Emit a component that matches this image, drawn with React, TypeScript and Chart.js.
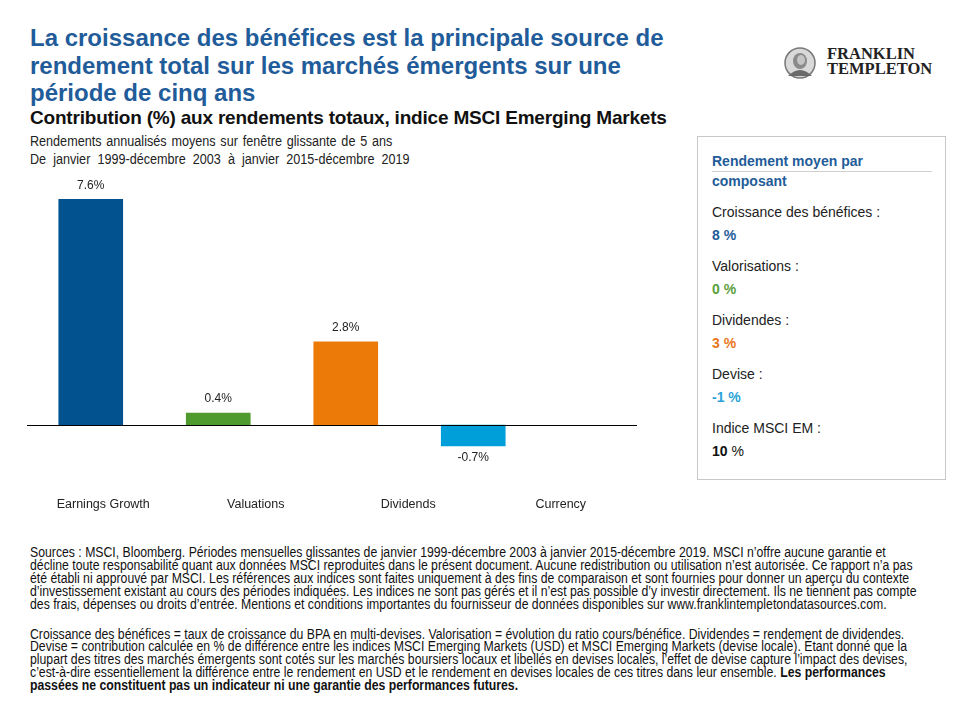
import React, { useEffect, useRef } from "react";
import { Chart, registerables } from "chart.js";

Chart.register(...registerables);

const categories = ["Earnings Growth", "Valuations", "Dividends", "Currency"];
const values = [7.6, 0.4, 2.8, -0.7];
const valueLabels = ["7.6%", "0.4%", "2.8%", "-0.7%"];
const barColors = ["#02528F", "#4F9A2F", "#EC7A08", "#009FDA"];

const boxItems = ["Croissance des bénéfices :", "Valorisations :", "Dividendes :", "Devise :", "Indice MSCI EM :"];
const boxValues = ["8", "0", "3", "-1", "10"];
const boxColors = ["#1F5C99", "#5B9F3C", "#E87722", "#2AA3D8", "#111111"];

const NARROW = '"Liberation Sans Narrow", "Arial Narrow", "Liberation Sans", Arial, sans-serif';
const SANS = '"Liberation Sans", Arial, sans-serif';

const footLines1 = [
  "Sources : MSCI, Bloomberg. Périodes mensuelles glissantes de janvier 1999-décembre 2003 à janvier 2015-décembre 2019. MSCI n’offre aucune garantie et",
  "décline toute responsabilité quant aux données MSCI reproduites dans le présent document. Aucune redistribution ou utilisation n’est autorisée. Ce rapport n’a pas",
  "été établi ni approuvé par MSCI. Les références aux indices sont faites uniquement à des fins de comparaison et sont fournies pour donner un aperçu du contexte",
  "d’investissement existant au cours des périodes indiquées. Les indices ne sont pas gérés et il n’est pas possible d’y investir directement. Ils ne tiennent pas compte",
  "des frais, dépenses ou droits d’entrée. Mentions et conditions importantes du fournisseur de données disponibles sur www.franklintempletondatasources.com.",
];
const footLines2 = [
  "Croissance des bénéfices = taux de croissance du BPA en multi-devises. Valorisation = évolution du ratio cours/bénéfice. Dividendes = rendement de dividendes.",
  "Devise = contribution calculée en % de différence entre les indices MSCI Emerging Markets (USD) et MSCI Emerging Markets (devise locale). Étant donné que la",
  "plupart des titres des marchés émergents sont cotés sur les marchés boursiers locaux et libellés en devises locales, l’effet de devise capture l’impact des devises,",
];

const valueLabelPlugin = {
  id: "valueLabels",
  afterDatasetsDraw(chart: any) {
    const ctx = chart.ctx;
    const meta = chart.getDatasetMeta(0);
    ctx.save();
    ctx.font = `12px ${NARROW}`;
    ctx.fillStyle = "#222";
    ctx.textAlign = "center";
    ctx.textBaseline = "middle";
    meta.data.forEach((el: any, i: number) => {
      const v = values[i];
      const y = v >= 0 ? el.y - 14 : el.y + 12;
      ctx.fillText(valueLabels[i], el.x, y);
    });
    ctx.restore();
  },
};

const zeroLinePlugin = {
  id: "zeroLine",
  afterDatasetsDraw(chart: any) {
    const ctx = chart.ctx;
    const y = Math.round(chart.scales.y.getPixelForValue(0)) + 0.5;
    ctx.save();
    ctx.strokeStyle = "#000";
    ctx.lineWidth = 1;
    ctx.beginPath();
    ctx.moveTo(chart.chartArea.left, y);
    ctx.lineTo(chart.chartArea.right, y);
    ctx.stroke();
    ctx.restore();
  },
};

function BarChart() {
  const ref = useRef<HTMLCanvasElement | null>(null);
  useEffect(() => {
    if (!ref.current) return;
    const points = values.map((v, i) => ({ x: i, y: v }));
    const chart = new Chart(ref.current, {
      type: "bar",
      data: {
        labels: categories,
        datasets: [
          {
            data: points as any,
            xAxisID: "xb",
            backgroundColor: barColors,
            borderWidth: 0,
            barThickness: 64,
          },
        ],
      },
      options: {
        animation: false,
        responsive: false,
        maintainAspectRatio: false,
        layout: { padding: { left: 27, right: 23, top: 12.5, bottom: 11.5 } },
        plugins: { legend: { display: false }, tooltip: { enabled: false } },
        scales: {
          x: {
            type: "category",
            offset: true,
            grid: { display: false, drawTicks: false },
            border: { display: false },
            ticks: { color: "#222", font: { family: NARROW, size: 12.5 }, padding: 19, maxRotation: 0 },
            afterFit: (s: any) => {
              s.height = 40;
            },
          },
          xb: {
            type: "linear",
            display: false,
            offset: false,
            min: -0.5,
            max: -0.5 + 610 / 127.5,
            grid: { display: false },
          },
          y: {
            display: false,
            min: -1.8,
            max: 8.5,
            grid: { display: false },
          },
        },
      },
      plugins: [valueLabelPlugin, zeroLinePlugin],
    });
    return () => chart.destroy();
  }, []);
  return (
    <canvas
      ref={ref}
      width={660}
      height={370}
      style={{ position: "absolute", left: 0, top: 160, width: 660, height: 370 }}
    />
  );
}

function Logo() {
  return (
    <div style={{ position: "absolute", left: 783, top: 46 }}>
      <svg width={34} height={34} style={{ position: "absolute", left: 0, top: 0 }}>
        <circle cx={17} cy={17} r={15} fill="#d9d9d9" stroke="#777" strokeWidth={1.5} />
        <ellipse cx={17} cy={15} rx={7} ry={8} fill="#8a8a8a" />
        <path d="M5 30 Q17 18 29 30 Z" fill="#6a6a6a" />
        <ellipse cx={18} cy={14} rx={4} ry={5} fill="#c4c4c4" />
      </svg>
      <div
        style={{
          position: "absolute",
          left: 44,
          top: 0,
          fontFamily: '"Liberation Serif", "Times New Roman", serif',
          fontWeight: "bold",
          fontSize: 16.5,
          lineHeight: "15px",
          color: "#222",
          whiteSpace: "nowrap",
        }}
      >
        FRANKLIN
        <br />
        TEMPLETON
      </div>
    </div>
  );
}

function SideBox() {
  return (
    <div
      style={{
        position: "absolute",
        left: 697,
        top: 136,
        width: 249,
        height: 344,
        border: "1px solid #c8c8c8",
        boxSizing: "border-box",
        fontFamily: SANS,
        fontSize: 14,
        color: "#222",
      }}
    >
      <div style={{ position: "absolute", left: 14, top: 15, width: 220, fontWeight: "bold", color: "#1F5C99", lineHeight: "19px" }}>
        <div style={{ borderBottom: "1px solid #d0d0d0" }}>Rendement moyen par</div>
        <div>composant</div>
      </div>
      {boxItems.map((t, i) => (
        <div key={i} style={{ position: "absolute", left: 14, top: 65 + i * 54, lineHeight: "20px", whiteSpace: "nowrap" }}>
          <div>{t}</div>
          <div style={{ marginTop: 3 }}>
            <span style={{ fontWeight: "bold", color: boxColors[i] }}>{boxValues[i]}</span>
            <span style={{ fontWeight: i === 4 ? "normal" : "bold", color: boxColors[i] }}> %</span>
          </div>
        </div>
      ))}
    </div>
  );
}

export default function App() {
  return (
    <div style={{ position: "absolute", left: 0, top: 0, width: 960, height: 720, background: "#fff", overflow: "hidden" }}>
      <div
        style={{
          position: "absolute",
          left: 30,
          top: 24,
          width: 700,
          fontFamily: SANS,
          fontWeight: "bold",
          fontSize: 24,
          lineHeight: "27.5px",
          color: "#1F5C99",
          whiteSpace: "nowrap",
        }}
      >
        La croissance des bénéfices est la principale source de
        <br />
        rendement total sur les marchés émergents sur une
        <br />
        période de cinq ans
      </div>
      <div
        style={{
          position: "absolute",
          left: 30,
          top: 108,
          fontFamily: SANS,
          fontWeight: "bold",
          fontSize: 19,
          letterSpacing: "-0.2px",
          lineHeight: "20px",
          color: "#111",
          whiteSpace: "nowrap",
        }}
      >
        Contribution (%) aux rendements totaux, indice MSCI Emerging Markets
      </div>
      <div
        style={{
          position: "absolute",
          left: 30,
          top: 132,
          fontFamily: NARROW,
          fontSize: 14,
          lineHeight: "18px",
          color: "#222",
          whiteSpace: "nowrap",
          transform: "scaleX(0.9)",
          transformOrigin: "0 0",
        }}
      >
        <div style={{ wordSpacing: "1.5px" }}>Rendements annualisés moyens sur fenêtre glissante de 5 ans</div>
        <div style={{ wordSpacing: "4px" }}>De janvier 1999-décembre 2003 à janvier 2015-décembre 2019</div>
      </div>
      <Logo />
      <BarChart />
      <SideBox />
      <div
        style={{
          position: "absolute",
          left: 30,
          top: 546,
          fontFamily: NARROW,
          fontSize: 14,
          lineHeight: "12.9px",
          color: "#111",
          whiteSpace: "nowrap",
          transform: "scaleX(0.875)",
          transformOrigin: "0 0",
        }}
      >
        {footLines1.map((l, i) => (
          <div key={"a" + i}>{l}</div>
        ))}
        <div style={{ height: 17 }} />
        {footLines2.map((l, i) => (
          <div key={"b" + i}>{l}</div>
        ))}
        <div>
          c’est-à-dire essentiellement la différence entre le rendement en USD et le rendement en devises locales de ces titres dans leur ensemble.{" "}
          <b>Les performances</b>
        </div>
        <div>
          <b>passées ne constituent pas un indicateur ni une garantie des performances futures.</b>
        </div>
      </div>
    </div>
  );
}
